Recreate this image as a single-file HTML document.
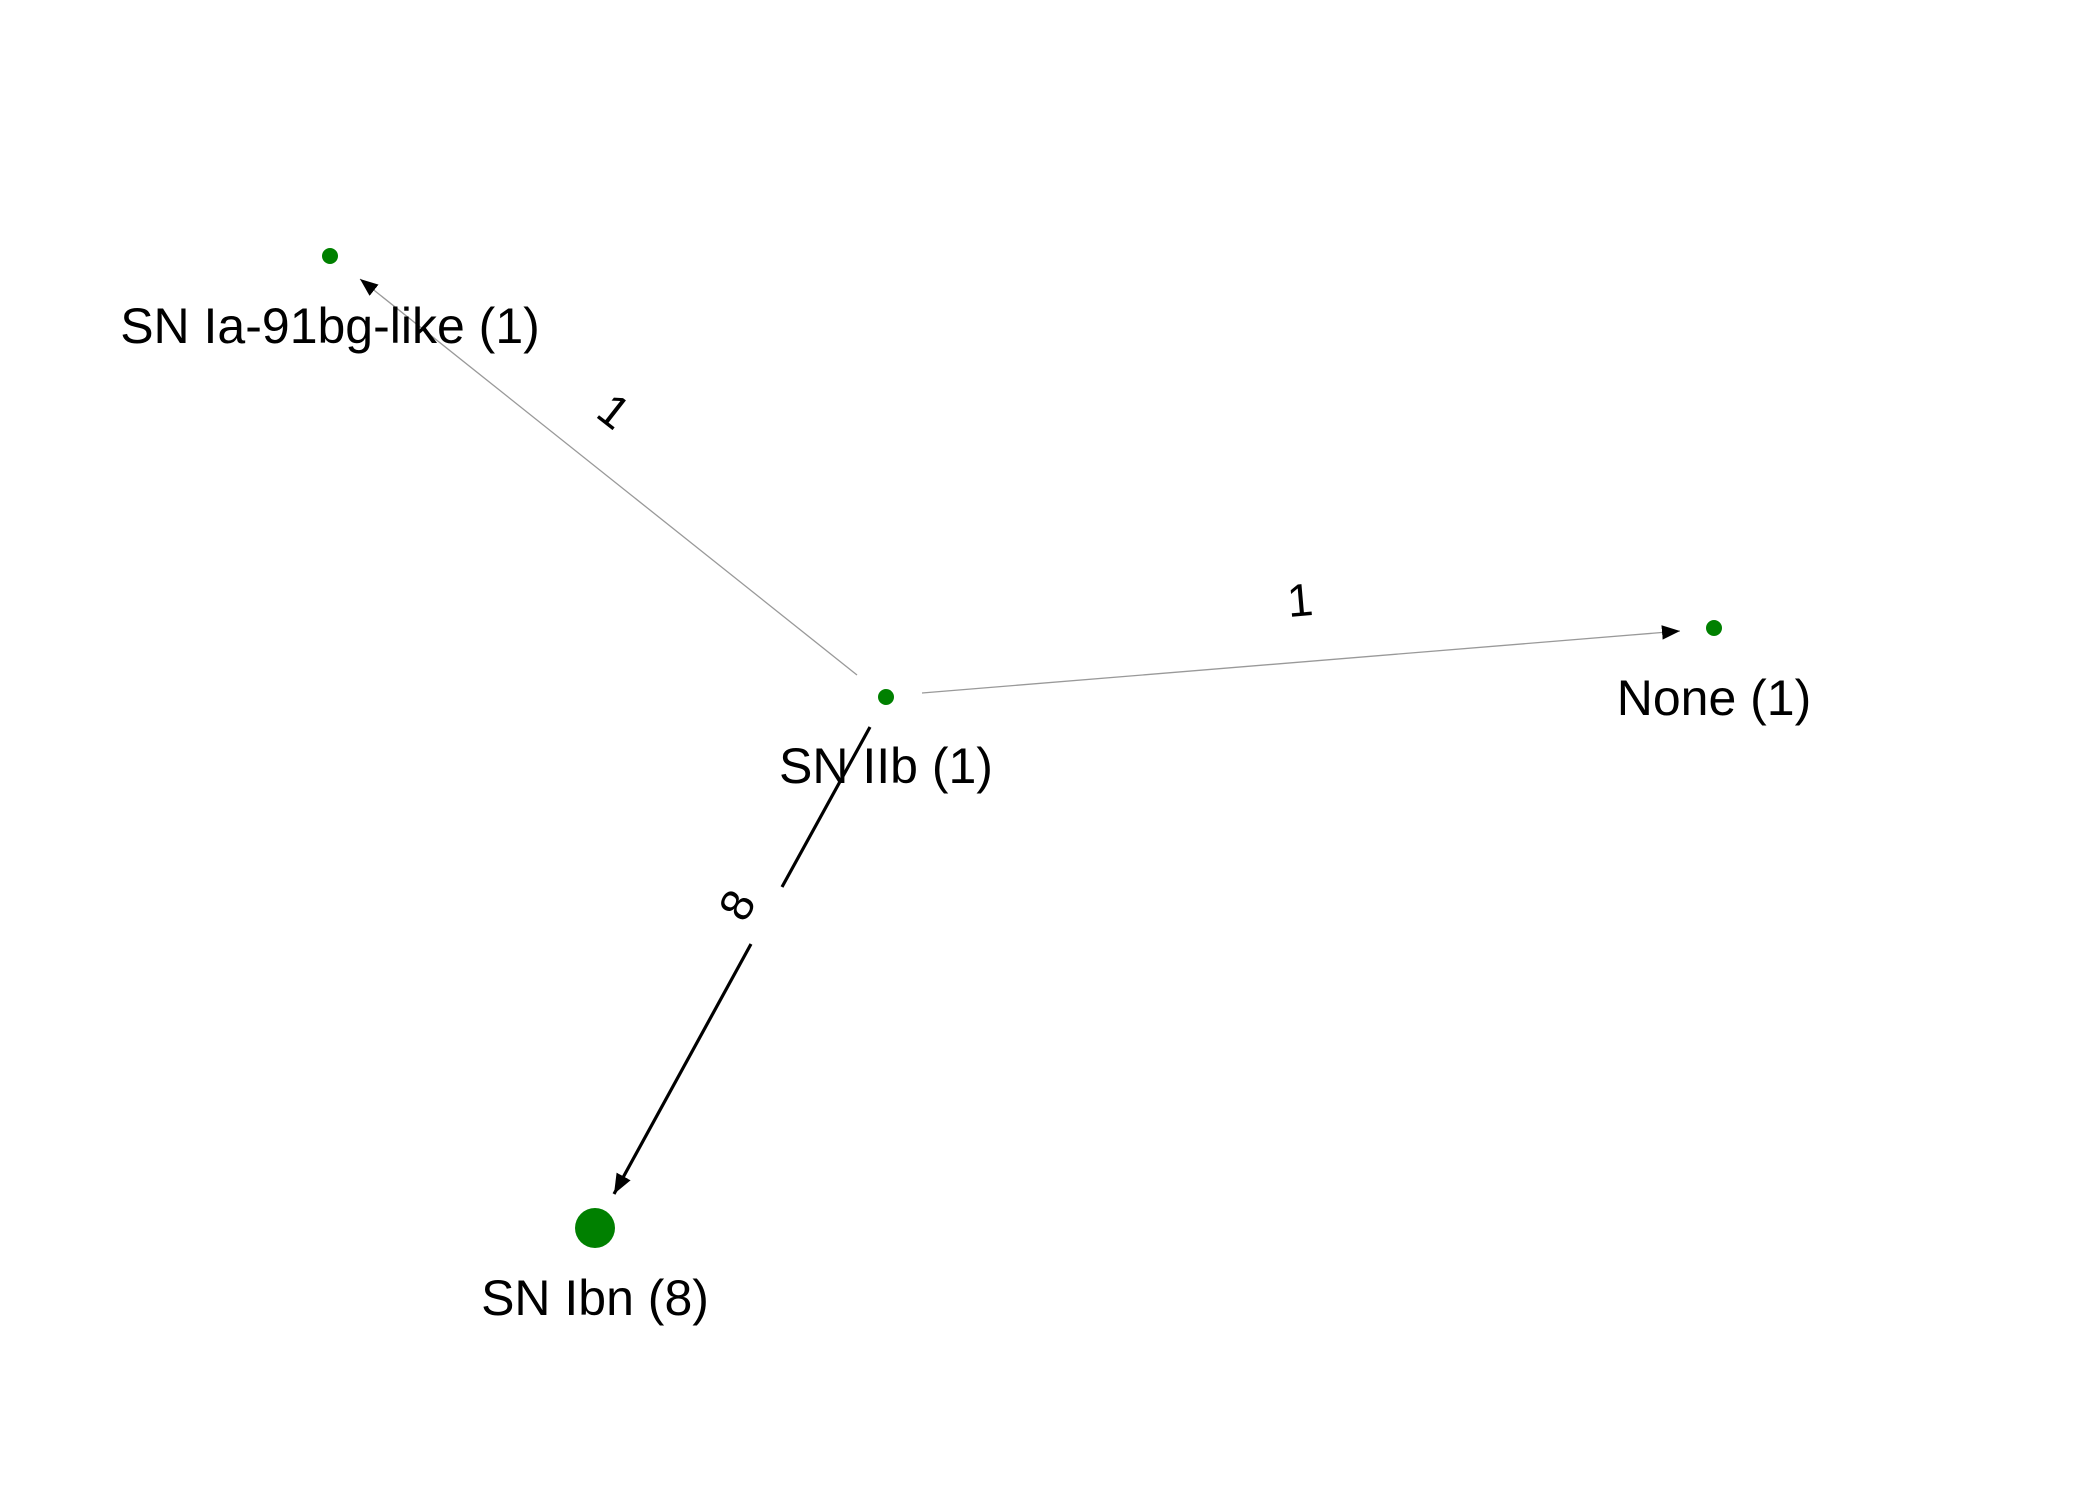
<!DOCTYPE html>
<html><head><meta charset="utf-8"><style>
html,body{margin:0;padding:0;background:#fff;}
svg{display:block;}
text{font-family:"Liberation Sans",Arial,sans-serif;fill:#000;}
</style></head><body>
<svg width="2100" height="1500" viewBox="0 0 2100 1500" xmlns="http://www.w3.org/2000/svg">
<defs>
<marker id="a" viewBox="0 0 10 10" refX="10" refY="5" markerWidth="18" markerHeight="18" markerUnits="userSpaceOnUse" orient="auto"><path d="M0,1 L10,5 L0,9 z" fill="#000"/></marker>
<marker id="b" viewBox="0 0 10 10" refX="10" refY="5" markerWidth="20" markerHeight="20" markerUnits="userSpaceOnUse" orient="auto"><path d="M0,1 L10,5 L0,9 z" fill="#000"/></marker>
</defs>
<line x1="857" y1="675" x2="360" y2="279" stroke="#999" stroke-width="1.3" marker-end="url(#a)"/>
<line x1="922" y1="693" x2="1680" y2="631" stroke="#999" stroke-width="1.3" marker-end="url(#a)"/>
<line x1="870" y1="727" x2="782" y2="887" stroke="#000" stroke-width="3.2"/>
<line x1="751" y1="944" x2="614" y2="1194" stroke="#000" stroke-width="3.2" marker-end="url(#b)"/>
<text x="614" y="411" font-size="46" text-anchor="middle" dominant-baseline="central" transform="rotate(38 614 411)">1</text>
<text x="1300" y="600" font-size="46" text-anchor="middle" dominant-baseline="central" transform="rotate(-5 1300 600)">1</text>
<text x="737" y="905" font-size="46" text-anchor="middle" dominant-baseline="central" transform="rotate(-61 737 905)">8</text>
<circle cx="330" cy="256" r="8" fill="#008000"/>
<circle cx="886" cy="697" r="8" fill="#008000"/>
<circle cx="1714" cy="628" r="8" fill="#008000"/>
<circle cx="595" cy="1228" r="20" fill="#008000"/>
<text x="330" y="343" font-size="50" text-anchor="middle">SN Ia-91bg-like (1)</text>
<text x="886" y="783" font-size="50" text-anchor="middle">SN IIb (1)</text>
<text x="1714" y="715" font-size="50" text-anchor="middle">None (1)</text>
<text x="595" y="1315" font-size="50" text-anchor="middle">SN Ibn (8)</text>
</svg>
</body></html>
